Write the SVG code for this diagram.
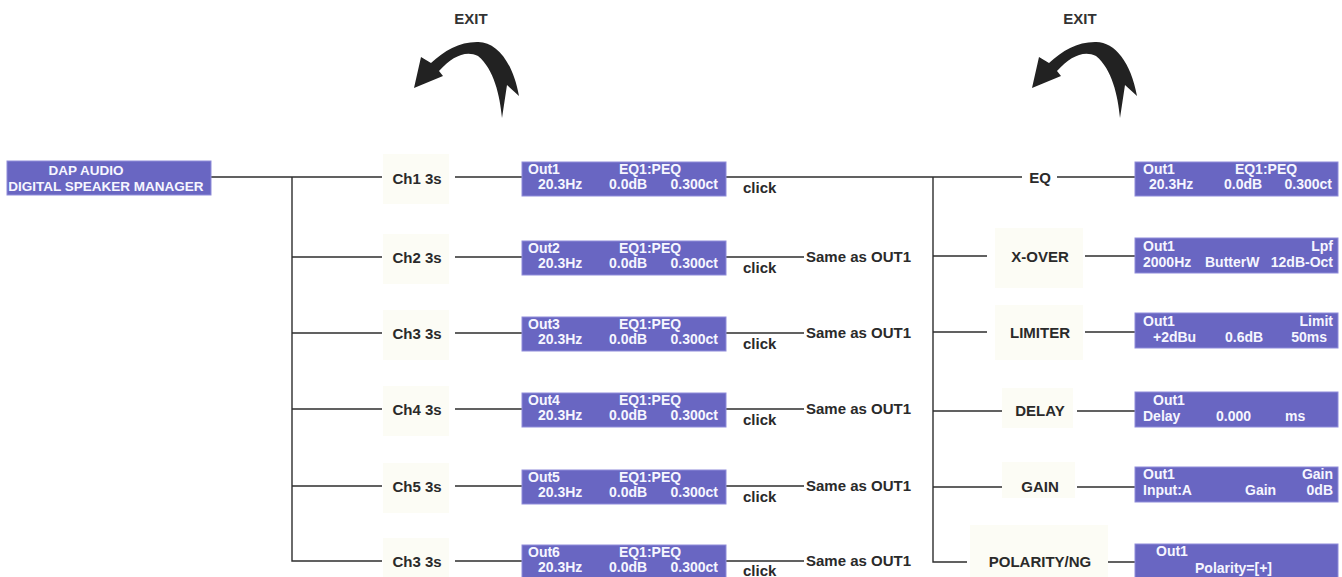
<svg xmlns="http://www.w3.org/2000/svg" xmlns:xlink="http://www.w3.org/1999/xlink" width="1342" height="577" viewBox="0 0 1342 577">
<style>
.ln{stroke:#2e2e2e;stroke-width:1.4;fill:none}
.lbl{font-family:"Liberation Sans",Arial,sans-serif;font-weight:bold;font-size:15px;fill:#2a2a2a}
.box{fill:#6966c2;stroke:#8f8cda;stroke-width:1}
.bt{font-family:"Liberation Sans",Arial,sans-serif;font-weight:bold;font-size:14px;fill:#f6f6ff}
.mt{font-family:"Liberation Sans",Arial,sans-serif;font-weight:bold;font-size:13.5px;fill:#f6f6ff}
.bg{fill:#fcfcf5}
.arrow{fill:#222222}
.mid{text-anchor:middle}
.end{text-anchor:end}
</style>
<defs>
<path id="exitArrow" d="M414,88 L421,57 L431,63 C444,51 459,42 477,42 C496,41 513,62 519,96 L507,85 L502,118 C500,96 494,69 478,56 C465,50 452,57 439,71 L443,76 Z"/>
</defs>
<rect width="1342" height="577" fill="#ffffff"/>

<g id="exit-left">
<text class="lbl mid" x="471" y="24" style="fill:#333">EXIT</text>
<use href="#exitArrow" xlink:href="#exitArrow" class="arrow"/>
</g>
<g id="exit-right">
<text class="lbl mid" x="1080" y="24" style="fill:#333">EXIT</text>
<use href="#exitArrow" xlink:href="#exitArrow" class="arrow" transform="translate(618,0)"/>
</g>

<g id="connectors">
<path class="ln" d="M211,177 H382 M292,177 V561 H382 M292,257 H382 M292,333 H382 M292,409 H382 M292,486 H382"/>
<path class="ln" d="M455,177 H522 M455,257 H522 M455,333 H522 M455,409 H522 M455,486 H522 M455,561 H522"/>
<path class="ln" d="M726,177 H1022 M726,257 H804 M726,333 H804 M726,409 H804 M726,486 H804 M726,561 H804"/>
<path class="ln" d="M933,177 V562 H967 M933,256 H987 M933,332 H987 M933,411 H1002 M933,487 H1002"/>
<path class="ln" d="M1057,177 H1135 M1085,256 H1135 M1085,332 H1135 M1077,411 H1135 M1077,487 H1135 M1108,562 H1135"/>
</g>

<g id="main">
<rect class="box" x="7" y="161" width="204" height="34"/>
<text class="mt mid" x="86" y="175">DAP AUDIO</text>
<text class="mt mid" x="106" y="191">DIGITAL SPEAKER MANAGER</text>
</g>

<g id="ch1">
<rect class="bg" x="383" y="154" width="66" height="50"/>
<text class="lbl mid" x="417" y="184">Ch1 3s</text>
</g>
<g id="ch2">
<rect class="bg" x="383" y="234" width="66" height="50"/>
<text class="lbl mid" x="417" y="263">Ch2 3s</text>
</g>
<g id="ch3">
<rect class="bg" x="383" y="310" width="66" height="50"/>
<text class="lbl mid" x="417" y="339">Ch3 3s</text>
</g>
<g id="ch4">
<rect class="bg" x="383" y="386" width="66" height="50"/>
<text class="lbl mid" x="417" y="415">Ch4 3s</text>
</g>
<g id="ch5">
<rect class="bg" x="383" y="463" width="66" height="50"/>
<text class="lbl mid" x="417" y="492">Ch5 3s</text>
</g>
<g id="ch6">
<rect class="bg" x="383" y="538" width="66" height="39"/>
<text class="lbl mid" x="417" y="567">Ch3 3s</text>
</g>

<g id="out1">
<rect class="box" x="522" y="162" width="204" height="34"/>
<text class="bt" x="528" y="174">Out1</text><text class="bt mid" x="650" y="174">EQ1:PEQ</text>
<text class="bt" x="538" y="189">20.3Hz</text><text class="bt" x="609" y="189">0.0dB</text><text class="bt end" x="718" y="189">0.300ct</text>
<text class="lbl" x="743" y="193">click</text>
</g>
<g id="out2">
<rect class="box" x="522" y="241" width="204" height="34"/>
<text class="bt" x="528" y="253">Out2</text><text class="bt mid" x="650" y="253">EQ1:PEQ</text>
<text class="bt" x="538" y="268">20.3Hz</text><text class="bt" x="609" y="268">0.0dB</text><text class="bt end" x="718" y="268">0.300ct</text>
<text class="lbl" x="743" y="273">click</text>
<text class="lbl" x="806" y="262">Same as OUT1</text>
</g>
<g id="out3">
<rect class="box" x="522" y="317" width="204" height="34"/>
<text class="bt" x="528" y="329">Out3</text><text class="bt mid" x="650" y="329">EQ1:PEQ</text>
<text class="bt" x="538" y="344">20.3Hz</text><text class="bt" x="609" y="344">0.0dB</text><text class="bt end" x="718" y="344">0.300ct</text>
<text class="lbl" x="743" y="349">click</text>
<text class="lbl" x="806" y="338">Same as OUT1</text>
</g>
<g id="out4">
<rect class="box" x="522" y="393" width="204" height="34"/>
<text class="bt" x="528" y="405">Out4</text><text class="bt mid" x="650" y="405">EQ1:PEQ</text>
<text class="bt" x="538" y="420">20.3Hz</text><text class="bt" x="609" y="420">0.0dB</text><text class="bt end" x="718" y="420">0.300ct</text>
<text class="lbl" x="743" y="425">click</text>
<text class="lbl" x="806" y="414">Same as OUT1</text>
</g>
<g id="out5">
<rect class="box" x="522" y="470" width="204" height="34"/>
<text class="bt" x="528" y="482">Out5</text><text class="bt mid" x="650" y="482">EQ1:PEQ</text>
<text class="bt" x="538" y="497">20.3Hz</text><text class="bt" x="609" y="497">0.0dB</text><text class="bt end" x="718" y="497">0.300ct</text>
<text class="lbl" x="743" y="502">click</text>
<text class="lbl" x="806" y="491">Same as OUT1</text>
</g>
<g id="out6">
<rect class="box" x="522" y="545" width="204" height="36"/>
<text class="bt" x="528" y="557">Out6</text><text class="bt mid" x="650" y="557">EQ1:PEQ</text>
<text class="bt" x="538" y="572">20.3Hz</text><text class="bt" x="609" y="572">0.0dB</text><text class="bt end" x="718" y="572">0.300ct</text>
<text class="lbl" x="743" y="576">click</text>
<text class="lbl" x="806" y="566">Same as OUT1</text>
</g>

<g id="eq">
<text class="lbl mid" x="1040" y="183">EQ</text>
</g>
<g id="xover">
<rect class="bg" x="995" y="228" width="88" height="60"/>
<text class="lbl mid" x="1040" y="262">X-OVER</text>
</g>
<g id="limiter">
<rect class="bg" x="995" y="305" width="88" height="55"/>
<text class="lbl mid" x="1040" y="338">LIMITER</text>
</g>
<g id="delay">
<rect class="bg" x="1002" y="388" width="71" height="40"/>
<text class="lbl mid" x="1040" y="416">DELAY</text>
</g>
<g id="gain">
<rect class="bg" x="1002" y="462" width="73" height="36"/>
<text class="lbl mid" x="1040" y="492">GAIN</text>
</g>
<g id="polarity">
<rect class="bg" x="970" y="525" width="138" height="52"/>
<text class="lbl mid" x="1040" y="567">POLARITY/NG</text>
</g>

<g id="eq-screen">
<rect class="box" x="1135" y="162" width="203" height="34"/>
<text class="bt" x="1143" y="174">Out1</text><text class="bt mid" x="1266" y="174">EQ1:PEQ</text>
<text class="bt" x="1149" y="189">20.3Hz</text><text class="bt" x="1224" y="189">0.0dB</text><text class="bt end" x="1332" y="189">0.300ct</text>
</g>
<g id="xover-screen">
<rect class="box" x="1135" y="238" width="203" height="35"/>
<text class="bt" x="1143" y="251">Out1</text><text class="bt end" x="1333" y="251">Lpf</text>
<text class="bt" x="1143" y="267">2000Hz</text><text class="bt" x="1205" y="267">ButterW</text><text class="bt end" x="1333" y="267">12dB-Oct</text>
</g>
<g id="limiter-screen">
<rect class="box" x="1135" y="313" width="203" height="35"/>
<text class="bt" x="1143" y="326">Out1</text><text class="bt end" x="1333" y="326">Limit</text>
<text class="bt" x="1153" y="342">+2dBu</text><text class="bt" x="1225" y="342">0.6dB</text><text class="bt end" x="1327" y="342">50ms</text>
</g>
<g id="delay-screen">
<rect class="box" x="1135" y="392" width="203" height="35"/>
<text class="bt" x="1153" y="405">Out1</text>
<text class="bt" x="1143" y="421">Delay</text><text class="bt" x="1216" y="421">0.000</text><text class="bt" x="1285" y="421">ms</text>
</g>
<g id="gain-screen">
<rect class="box" x="1135" y="467" width="203" height="35"/>
<text class="bt" x="1143" y="479">Out1</text><text class="bt end" x="1333" y="479">Gain</text>
<text class="bt" x="1143" y="495">Input:A</text><text class="bt" x="1245" y="495">Gain</text><text class="bt end" x="1333" y="495">0dB</text>
</g>
<g id="polarity-screen">
<rect class="box" x="1135" y="544" width="203" height="38"/>
<text class="bt" x="1156" y="556">Out1</text>
<text class="bt" x="1195" y="573">Polarity=[+]</text>
</g>
</svg>
